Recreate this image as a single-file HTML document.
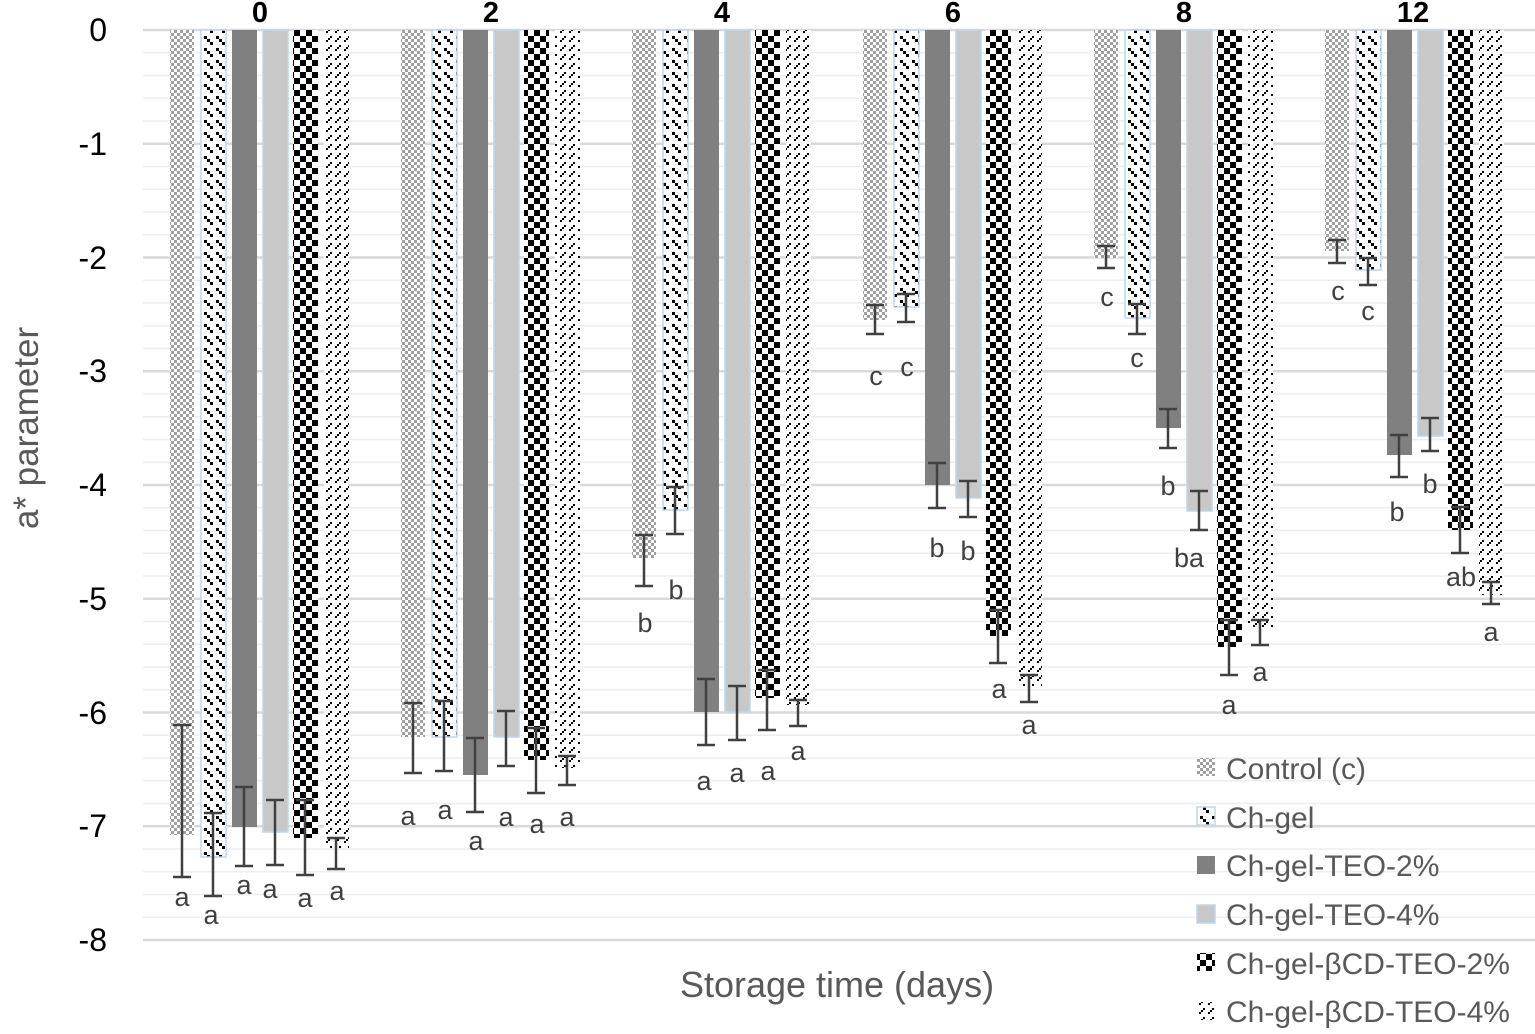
<!DOCTYPE html>
<html><head><meta charset="utf-8"><style>
html,body{margin:0;padding:0;background:#fff}
svg{display:block}
text{font-family:"Liberation Sans",sans-serif}
</style></head><body>
<svg width="1535" height="1034" viewBox="0 0 1535 1034" xmlns="http://www.w3.org/2000/svg">
<defs>
<pattern id="pc" x="0" y="0" width="6" height="6" patternUnits="userSpaceOnUse"><rect width="6" height="6" fill="#fff"/><rect width="3" height="3" fill="#a0a0a0"/><rect x="3" y="3" width="3" height="3" fill="#a0a0a0"/></pattern>
<pattern id="pg" x="0" y="0" width="12" height="12" patternUnits="userSpaceOnUse" shape-rendering="crispEdges"><rect width="12" height="12" fill="#fff"/><rect x="0" y="0" width="3" height="3" fill="#000"/><rect x="3" y="3" width="3" height="3" fill="#000"/><rect x="6" y="6" width="3" height="3" fill="#000"/></pattern>
<pattern id="pk" x="0" y="0" width="12" height="12" patternUnits="userSpaceOnUse" shape-rendering="crispEdges"><rect width="12" height="12" fill="#fff"/><rect width="6" height="6" fill="#000"/><rect x="6" y="6" width="6" height="6" fill="#000"/></pattern>
<pattern id="pd" x="0" y="0" width="9" height="9" patternUnits="userSpaceOnUse" shape-rendering="crispEdges"><rect width="9" height="9" fill="#fff"/><rect x="6" y="0" width="2" height="2" fill="#000"/><rect x="4" y="2" width="2" height="2" fill="#000"/><rect x="2" y="4" width="2" height="2" fill="#000"/></pattern>
</defs>
<g stroke="#eeeeee" stroke-width="1.5">
<line x1="143" x2="1535" y1="52.75" y2="52.75"/><line x1="143" x2="1535" y1="75.5" y2="75.5"/><line x1="143" x2="1535" y1="98.25" y2="98.25"/><line x1="143" x2="1535" y1="121" y2="121"/>
<line x1="143" x2="1535" y1="166.5" y2="166.5"/><line x1="143" x2="1535" y1="189.25" y2="189.25"/><line x1="143" x2="1535" y1="212" y2="212"/><line x1="143" x2="1535" y1="234.75" y2="234.75"/>
<line x1="143" x2="1535" y1="280.25" y2="280.25"/><line x1="143" x2="1535" y1="303" y2="303"/><line x1="143" x2="1535" y1="325.75" y2="325.75"/><line x1="143" x2="1535" y1="348.5" y2="348.5"/>
<line x1="143" x2="1535" y1="394" y2="394"/><line x1="143" x2="1535" y1="416.75" y2="416.75"/><line x1="143" x2="1535" y1="439.5" y2="439.5"/><line x1="143" x2="1535" y1="462.25" y2="462.25"/>
<line x1="143" x2="1535" y1="507.75" y2="507.75"/><line x1="143" x2="1535" y1="530.5" y2="530.5"/><line x1="143" x2="1535" y1="553.25" y2="553.25"/><line x1="143" x2="1535" y1="576" y2="576"/>
<line x1="143" x2="1535" y1="621.5" y2="621.5"/><line x1="143" x2="1535" y1="644.25" y2="644.25"/><line x1="143" x2="1535" y1="667" y2="667"/><line x1="143" x2="1535" y1="689.75" y2="689.75"/>
<line x1="143" x2="1535" y1="735.25" y2="735.25"/><line x1="143" x2="1535" y1="758" y2="758"/><line x1="143" x2="1535" y1="780.75" y2="780.75"/><line x1="143" x2="1535" y1="803.5" y2="803.5"/>
<line x1="143" x2="1535" y1="849" y2="849"/><line x1="143" x2="1535" y1="871.75" y2="871.75"/><line x1="143" x2="1535" y1="894.5" y2="894.5"/><line x1="143" x2="1535" y1="917.25" y2="917.25"/>
</g>
<g stroke="#d9d9d9" stroke-width="2.5">
<line x1="143" x2="1535" y1="30" y2="30"/><line x1="143" x2="1535" y1="143.75" y2="143.75"/><line x1="143" x2="1535" y1="257.5" y2="257.5"/><line x1="143" x2="1535" y1="371.25" y2="371.25"/><line x1="143" x2="1535" y1="485" y2="485"/><line x1="143" x2="1535" y1="598.75" y2="598.75"/><line x1="143" x2="1535" y1="712.5" y2="712.5"/><line x1="143" x2="1535" y1="826.25" y2="826.25"/><line x1="143" x2="1535" y1="940" y2="940"/>
</g>
<g font-size="32" fill="#000" text-anchor="end">
<text x="107" y="41">0</text><text x="107" y="155">-1</text><text x="107" y="269">-2</text><text x="107" y="382">-3</text><text x="107" y="496">-4</text><text x="107" y="610">-5</text><text x="107" y="724">-6</text><text x="107" y="837">-7</text><text x="107" y="951">-8</text>
</g>
<text transform="translate(38,428) rotate(-90)" font-size="35" fill="#595959" text-anchor="middle">a* parameter</text>
<text x="837" y="997" font-size="36" fill="#595959" text-anchor="middle">Storage time (days)</text>
<g font-size="29" font-weight="bold" text-anchor="middle" fill="#000">
<text x="260" y="22">0</text><text x="491" y="22">2</text><text x="722" y="22">4</text><text x="953" y="22">6</text><text x="1184" y="22">8</text><text x="1413" y="22">12</text>
</g>
<rect x="170" y="30" width="24" height="805" fill="url(#pc)"/>
<rect x="201" y="30" width="25" height="827" fill="url(#pg)" stroke="#bdd7ee" stroke-width="1.5"/>
<rect x="232" y="30" width="25" height="797" fill="#808080"/>
<rect x="263" y="30" width="25" height="802" fill="#c8c8c8" stroke="#bdd7ee" stroke-width="1.5"/>
<rect x="293" y="30" width="25" height="808" fill="url(#pk)"/>
<rect x="324" y="30" width="25" height="818" fill="url(#pd)"/>
<rect x="401" y="30" width="24" height="707" fill="url(#pc)"/>
<rect x="432" y="30" width="25" height="707" fill="url(#pg)" stroke="#bdd7ee" stroke-width="1.5"/>
<rect x="463" y="30" width="25" height="745" fill="#808080"/>
<rect x="494" y="30" width="25" height="707" fill="#c8c8c8" stroke="#bdd7ee" stroke-width="1.5"/>
<rect x="524" y="30" width="25" height="730" fill="url(#pk)"/>
<rect x="555" y="30" width="25" height="738" fill="url(#pd)"/>
<rect x="632" y="30" width="24" height="528" fill="url(#pc)"/>
<rect x="663" y="30" width="25" height="480" fill="url(#pg)" stroke="#bdd7ee" stroke-width="1.5"/>
<rect x="694" y="30" width="25" height="682" fill="#808080"/>
<rect x="725" y="30" width="25" height="682" fill="#c8c8c8" stroke="#bdd7ee" stroke-width="1.5"/>
<rect x="755" y="30" width="25" height="668" fill="url(#pk)"/>
<rect x="786" y="30" width="25" height="675" fill="url(#pd)"/>
<rect x="863" y="30" width="24" height="290" fill="url(#pc)"/>
<rect x="894" y="30" width="25" height="277" fill="url(#pg)" stroke="#bdd7ee" stroke-width="1.5"/>
<rect x="925" y="30" width="25" height="455" fill="#808080"/>
<rect x="956" y="30" width="25" height="468" fill="#c8c8c8" stroke="#bdd7ee" stroke-width="1.5"/>
<rect x="986" y="30" width="25" height="606" fill="url(#pk)"/>
<rect x="1017" y="30" width="25" height="656" fill="url(#pd)"/>
<rect x="1094" y="30" width="24" height="228" fill="url(#pc)"/>
<rect x="1125" y="30" width="25" height="288" fill="url(#pg)" stroke="#bdd7ee" stroke-width="1.5"/>
<rect x="1156" y="30" width="25" height="398" fill="#808080"/>
<rect x="1187" y="30" width="25" height="481" fill="#c8c8c8" stroke="#bdd7ee" stroke-width="1.5"/>
<rect x="1217" y="30" width="25" height="617" fill="url(#pk)"/>
<rect x="1248" y="30" width="25" height="598" fill="url(#pd)"/>
<rect x="1325" y="30" width="24" height="221" fill="url(#pc)"/>
<rect x="1356" y="30" width="25" height="240" fill="url(#pg)" stroke="#bdd7ee" stroke-width="1.5"/>
<rect x="1387" y="30" width="25" height="425" fill="#808080"/>
<rect x="1418" y="30" width="25" height="406" fill="#c8c8c8" stroke="#bdd7ee" stroke-width="1.5"/>
<rect x="1448" y="30" width="25" height="500" fill="url(#pk)"/>
<rect x="1479" y="30" width="25" height="565" fill="url(#pd)"/>
<g stroke="#404040" stroke-width="2.5" fill="none">
<path d="M182,725V877M173,725H191M173,877H191"/>
<path d="M213,813V896M204,813H222M204,896H222"/>
<path d="M244,787V866M235,787H253M235,866H253"/>
<path d="M275,800V865M266,800H284M266,865H284"/>
<path d="M305,800V875M296,800H314M296,875H314"/>
<path d="M336,838V869M327,838H345M327,869H345"/>
<path d="M413,703V773M404,703H422M404,773H422"/>
<path d="M444,701V771M435,701H453M435,771H453"/>
<path d="M475,738V812M466,738H484M466,812H484"/>
<path d="M506,711V766M497,711H515M497,766H515"/>
<path d="M536,728V793M527,728H545M527,793H545"/>
<path d="M567,756V785M558,756H576M558,785H576"/>
<path d="M644,535V586M635,535H653M635,586H653"/>
<path d="M675,487V534M666,487H684M666,534H684"/>
<path d="M706,679V745M697,679H715M697,745H715"/>
<path d="M737,686V740M728,686H746M728,740H746"/>
<path d="M767,670V730M758,670H776M758,730H776"/>
<path d="M798,700V726M789,700H807M789,726H807"/>
<path d="M875,305V334M866,305H884M866,334H884"/>
<path d="M906,294V322M897,294H915M897,322H915"/>
<path d="M937,463V508M928,463H946M928,508H946"/>
<path d="M968,481V517M959,481H977M959,517H977"/>
<path d="M998,610V663M989,610H1007M989,663H1007"/>
<path d="M1029,675V702M1020,675H1038M1020,702H1038"/>
<path d="M1106,246V268M1097,246H1115M1097,268H1115"/>
<path d="M1137,304V334M1128,304H1146M1128,334H1146"/>
<path d="M1168,409V448M1159,409H1177M1159,448H1177"/>
<path d="M1199,491V530M1190,491H1208M1190,530H1208"/>
<path d="M1229,620V675M1220,620H1238M1220,675H1238"/>
<path d="M1260,620V645M1251,620H1269M1251,645H1269"/>
<path d="M1337,240V263M1328,240H1346M1328,263H1346"/>
<path d="M1368,258V285M1359,258H1377M1359,285H1377"/>
<path d="M1399,435V477M1390,435H1408M1390,477H1408"/>
<path d="M1430,418V451M1421,418H1439M1421,451H1439"/>
<path d="M1460,507V553M1451,507H1469M1451,553H1469"/>
<path d="M1491,582V604M1482,582H1500M1482,604H1500"/>
</g>
<g font-size="27" fill="#404040" text-anchor="middle">
<text x="182" y="906">a</text><text x="211" y="924">a</text><text x="244" y="894">a</text><text x="270" y="898">a</text><text x="305" y="907">a</text><text x="337" y="900">a</text>
<text x="408" y="825">a</text><text x="445" y="819">a</text><text x="476" y="850">a</text><text x="506" y="826">a</text><text x="537" y="833">a</text><text x="567" y="826">a</text>
<text x="645" y="632">b</text><text x="676" y="599">b</text><text x="704" y="790">a</text><text x="737" y="782">a</text><text x="768" y="780">a</text><text x="798" y="760">a</text>
<text x="876" y="385">c</text><text x="907" y="376">c</text><text x="937" y="557">b</text><text x="968" y="560">b</text><text x="999" y="698">a</text><text x="1029" y="734">a</text>
<text x="1107" y="306">c</text><text x="1137" y="367">c</text><text x="1168" y="495">b</text><text x="1189" y="567">ba</text><text x="1229" y="714">a</text><text x="1260" y="681">a</text>
<text x="1338" y="300">c</text><text x="1368" y="320">c</text><text x="1397" y="521">b</text><text x="1430" y="493">b</text><text x="1461" y="586">ab</text><text x="1491" y="641">a</text>
</g>
<rect x="1197" y="758" width="18" height="18" fill="url(#pc)"/>
<rect x="1197" y="807" width="18" height="18" fill="url(#pg)" stroke="#bdd7ee" stroke-width="1.5"/>
<rect x="1197" y="856" width="18" height="18" fill="#808080"/>
<rect x="1197" y="905" width="18" height="18" fill="#c8c8c8" stroke="#bdd7ee" stroke-width="1.5"/>
<rect x="1197" y="953" width="18" height="18" fill="url(#pk)"/>
<rect x="1197" y="1002" width="18" height="18" fill="url(#pd)"/>
<g font-size="30" fill="#595959">
<text x="1226" y="779">Control (c)</text>
<text x="1226" y="828">Ch-gel</text>
<text x="1226" y="876">Ch-gel-TEO-2%</text>
<text x="1226" y="925">Ch-gel-TEO-4%</text>
<text x="1226" y="974">Ch-gel-βCD-TEO-2%</text>
<text x="1226" y="1022">Ch-gel-βCD-TEO-4%</text>
</g>
</svg>
</body></html>
